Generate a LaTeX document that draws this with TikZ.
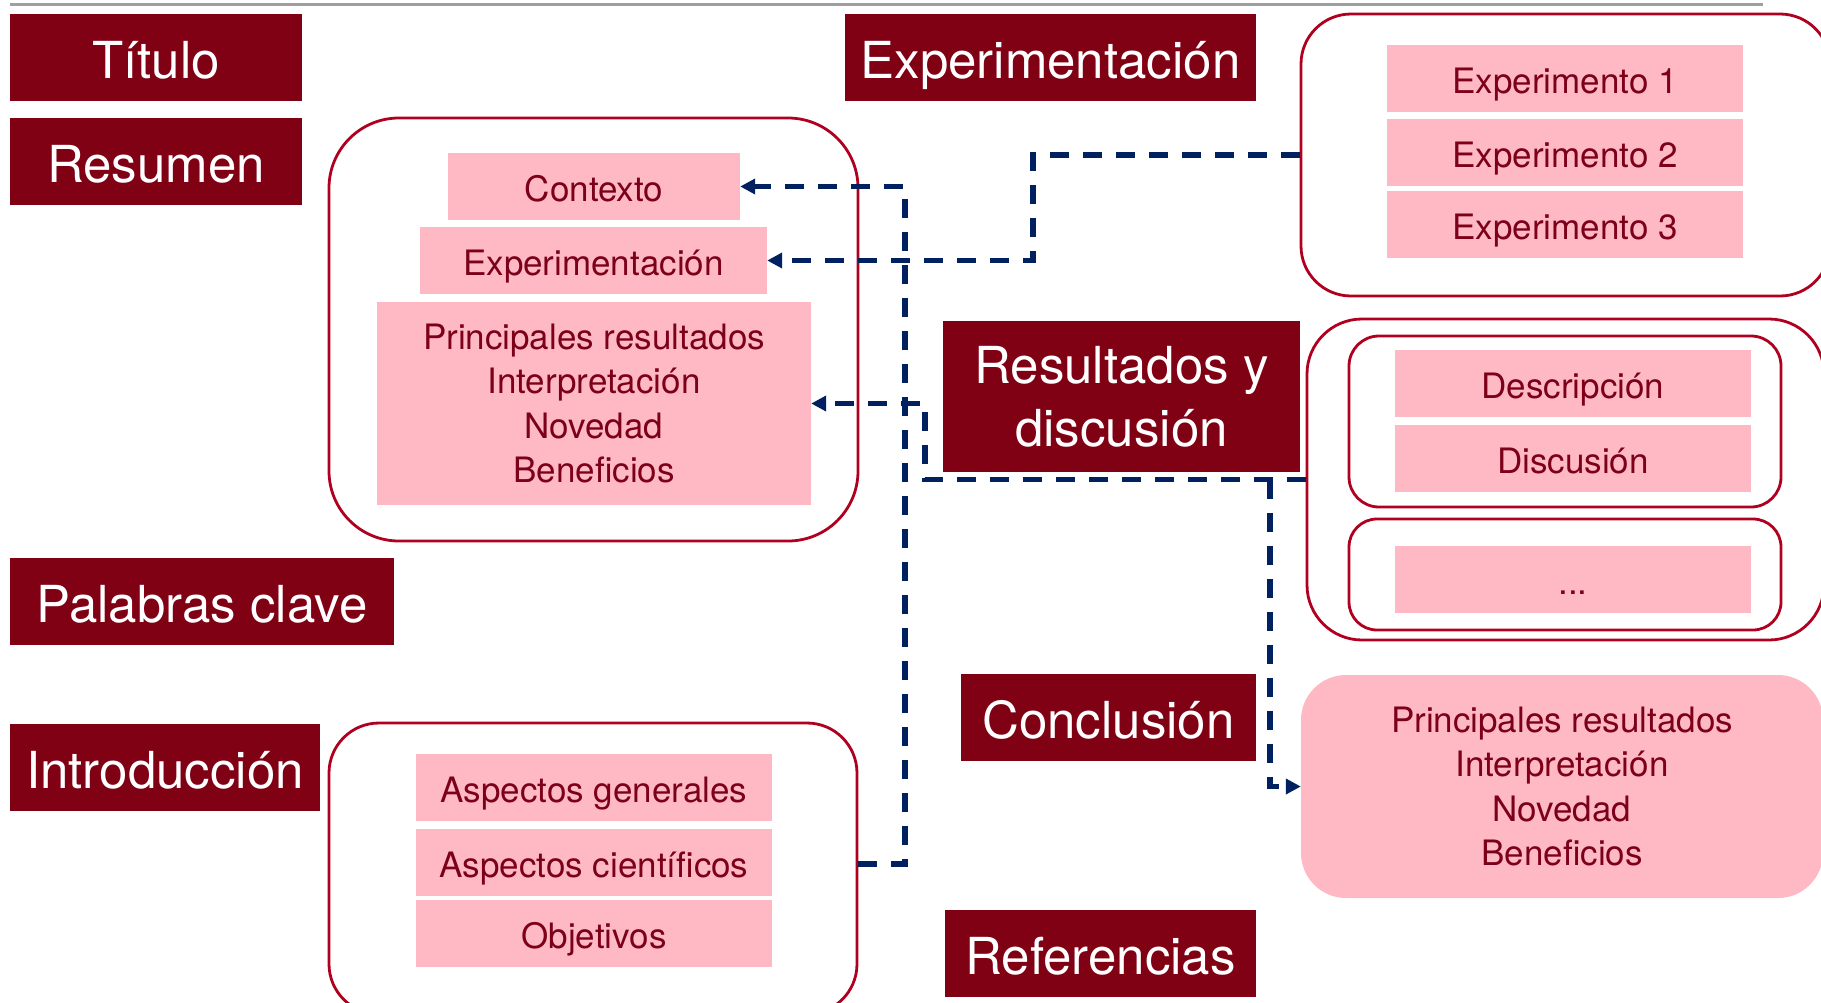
\documentclass[tikz,border=0pt]{standalone}
\usepackage{fontspec}
\setmainfont{TeX Gyre Heros}
\usetikzlibrary{arrows.meta,positioning}

\definecolor{granate}{RGB}{128,0,20}
\definecolor{rosa}{RGB}{255,185,197}
\definecolor{vino}{RGB}{125,0,25}
\definecolor{borde}{RGB}{176,0,32}
\definecolor{marino}{RGB}{0,32,96}

\tikzset{
	header/.style={fill=granate, text=white, inner sep=0pt, minimum height=87pt, font=\fontsize{51}{63}\selectfont},
	onehdr/.style={header, text height=41pt, text depth=0pt},
	item/.style={fill=rosa, text=vino, inner sep=0pt, minimum height=67pt, font=\fontsize{35}{44.5}\selectfont},
	oneitem/.style={item, text height=29pt, text depth=0pt},
	frame/.style={draw=borde, line width=2.8pt, fill=white, inner sep=0pt},
	link/.style={draw=marino, line width=5.2pt, dash pattern=on 19pt off 14pt, -{Triangle[length=15pt,width=15pt]}}
}

\begin{document}
\begin{tikzpicture}[x=1pt, y=-1pt]
		% 1. Page size and top rule
		\useasboundingbox (0,0) rectangle (1821,1002);
		\clip (0,0) rectangle (1821,1002);
		\draw[gray!75, line width=3pt] (10,4) -- (1763,4);

		% 2. Section headers
		\node[onehdr, minimum width=292pt] (titulo) at (156,57.5) {Título};
		\node[onehdr, minimum width=292pt] (resumen) at (156,161.5) {Resumen};
		\node[onehdr, minimum width=411pt] (experim) at (1050.5,57.5) {Experimentación};
		\node[header, minimum width=357pt, minimum height=151pt, align=center] (resultados) at (1121.5,396.5) {Resultados y\\discusión};
		\node[onehdr, minimum width=384pt] (palabras) at (202,601.5) {Palabras clave};
		\node[onehdr, minimum width=310pt] (intro) at (165,767.5) {Introducción};
		\node[onehdr, minimum width=295pt] (conclusion) at (1108.5,717.5) {Conclusión};
		\node[onehdr, minimum width=311pt] (refs) at (1100.5,953.5) {Referencias};

		% 3. Rounded frames
		\node[frame, rounded corners=70pt, minimum width=529pt, minimum height=423pt] (resframe) at (593.5,329.5) {};
		\node[frame, rounded corners=50pt, minimum width=529pt, minimum height=282pt] (expframe) at (1565.5,155) {};
		\node[frame, rounded corners=55pt, minimum width=517pt, minimum height=321pt] (resultframe) at (1565.5,479.5) {};
		\node[frame, rounded corners=30pt, minimum width=432pt, minimum height=171pt] (inner1) at (1565,421.5) {};
		\node[frame, rounded corners=28pt, minimum width=432pt, minimum height=111pt] (inner2) at (1565,574.5) {};
		\node[frame, rounded corners=50pt, minimum width=528pt, minimum height=291pt] (introframe) at (593,868.5) {};

		% 4. Pink items
		% Resumen
		\node[oneitem, minimum width=292pt] (contexto) at (594,186.5) {Contexto};
		\node[oneitem, minimum width=347pt] (exppink) at (593.5,260.5) {Experimentación};
		\node[item, minimum width=434pt, minimum height=203pt, align=center] (principales) at (594,403.5)
			{Principales resultados\\Interpretación\\Novedad\\Beneficios};
		% Experimentacion
		\node[oneitem, minimum width=356pt] (exp1) at (1565,78.5) {Experimento 1};
		\node[oneitem, minimum width=356pt] (exp2) at (1565,152.5) {Experimento 2};
		\node[oneitem, minimum width=356pt] (exp3) at (1565,224.5) {Experimento 3};
		% Resultados y discusion
		\node[oneitem, minimum width=356pt] (descr) at (1573,383.5) {Descripción};
		\node[oneitem, minimum width=356pt] (discus) at (1573,458.5) {Discusión};
		\node[oneitem, minimum width=356pt] (dots) at (1573,579.5) {...};
		% Introduccion
		\node[oneitem, minimum width=356pt] (aspgen) at (594,787.5) {Aspectos generales};
		\node[oneitem, minimum width=356pt] (aspcien) at (594,862.5) {Aspectos científicos};
		\node[oneitem, minimum width=356pt] (objet) at (594,933.5) {Objetivos};
		% Conclusion
		\node[item, rounded corners=45pt, minimum width=522pt, minimum height=223pt, align=center] (concbox) at (1562,786.5)
			{Principales resultados\\Interpretación\\Novedad\\Beneficios};

		% 5. Dashed links
		\coordinate (j1) at (905,864);
		\draw[link] (j1 -| introframe.east) -- (j1) |- (contexto.east);

		\coordinate (j2) at (1033,260.5);
		\draw[link] (expframe.west) -| (j2) -- (exppink.east);

		\coordinate (j3) at (925,479.5);
		\draw[link] (resultframe.west) -- (j3) |- (principales.east);

		\coordinate (j4) at (1270,479.5);
		\draw[link] (j4) |- (concbox.west);
	\end{tikzpicture}
\end{document}
